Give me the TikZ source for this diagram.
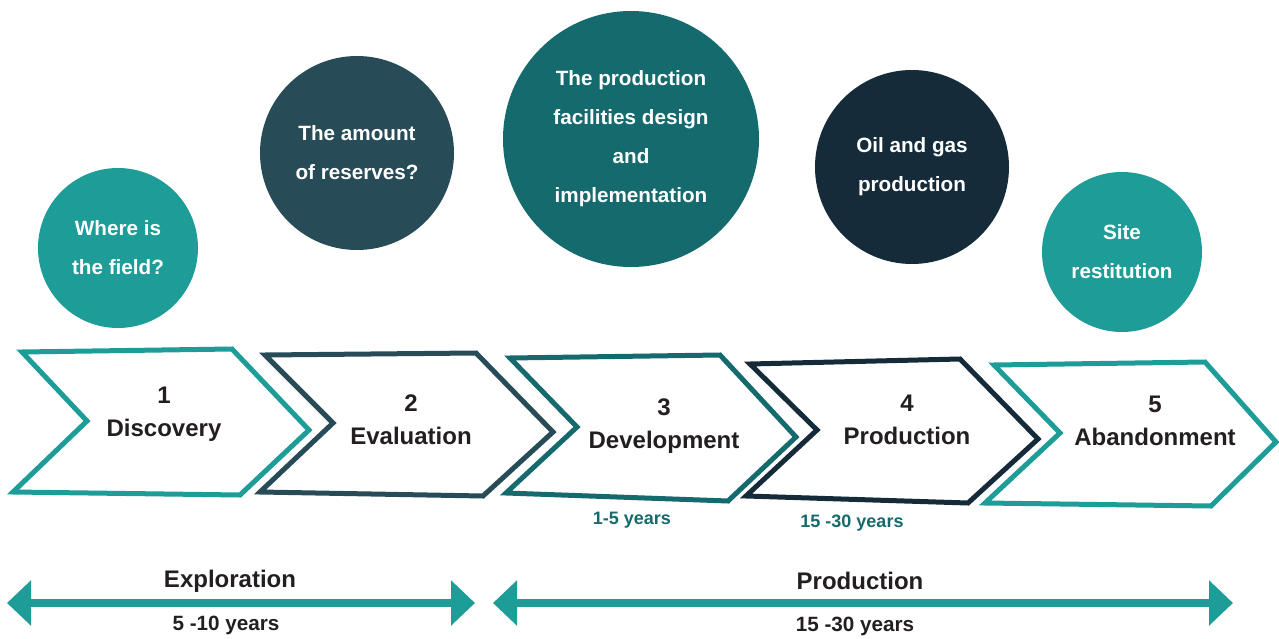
\documentclass[tikz,border=0pt]{standalone}
\usepackage{fontspec}
\setmainfont{Liberation Sans}
\usepackage{tikz}
\usetikzlibrary{arrows.meta,positioning,shapes}

\definecolor{tealA}{HTML}{1E9C98}
\definecolor{slateB}{HTML}{274B57}
\definecolor{tealC}{HTML}{156A6D}
\definecolor{navyD}{HTML}{152B3A}
\definecolor{inkT}{HTML}{231F20}

\begin{document}
\begin{tikzpicture}[x=0.75pt,y=-0.75pt,
            bubble/.style={circle,inner sep=0,align=center,text=white,font=\fontsize{15.5}{29.25}\selectfont\bfseries},
            chev/.style={line width=3.75pt,line join=miter,fill=white},
            stage/.style={align=center,text=inkT,font=\fontsize{18}{24.75}\selectfont\bfseries},
            dur/.style={text=tealC,font=\fontsize{13.5}{16}\selectfont\bfseries},
            phase/.style={text=inkT,font=\fontsize{18}{21}\selectfont\bfseries},
            span/.style={text=inkT,font=\fontsize{15.5}{18}\selectfont\bfseries},
            timeline/.style={draw=tealA,line width=6pt,{Triangle[length=18pt,width=33pt]}-{Triangle[length=18pt,width=33pt]}}
          ]
          \useasboundingbox (0,0) rectangle (1279,639);

          %questions
          \node[bubble,fill=tealA,minimum size=120pt] (q1) at (118,248) {Where is\\the field?};
          \node[bubble,fill=slateB,minimum size=145.5pt] (q2) at (357,153) {The amount\\of reserves?};
          \node[bubble,fill=tealC,minimum size=192pt] (q3) at (631,139) {The production\\facilities design\\and\\implementation};
          \node[bubble,fill=navyD,minimum size=145.5pt] (q4) at (912,167) {Oil and gas\\production};
          \node[bubble,fill=tealA,minimum size=120pt] (q5) at (1122,252) {Site\\restitution};

          %stages
          \draw[chev,draw=tealA] (22,352) -- (232,349) -- (309,430) -- (240,495) -- (13,492) -- (87,421) -- cycle;
          \draw[chev,draw=slateB] (265,355) -- (476,353) -- (553,432) -- (483,496) -- (260,492) -- (333,423) -- cycle;
          \draw[chev,draw=tealC] (510,358) -- (720,355) -- (796,437) -- (728,501) -- (506,493) -- (577,427) -- cycle;
          \draw[chev,draw=navyD] (750,364) -- (960,359) -- (1038,439) -- (968,503) -- (746,496) -- (817,430) -- cycle;
          \draw[chev,draw=tealA] (994,365) -- (1205,362) -- (1276,442) -- (1211,506) -- (985,503) -- (1060,433) -- cycle;

          \node[stage] (s1) at (164,414) {1\\Discovery};
          \node[stage] (s2) at (411,420) {2\\Evaluation};
          \node[stage] (s3) at (664,426) {3\\Development};
          \node[stage] (s4) at (907,420) {4\\Production};
          \node[stage] (s5) at (1155,421) {5\\Abandonment};

          \node[dur] (d3) at (632,520) {1-5 years};
          \node[dur] (d4) at (852,523) {15 -30 years};

          %phases
          \coordinate (e0) at (7,603);
          \coordinate (e1) at (475,603);
          \coordinate (p0) at (493,603);
          \coordinate (p1) at (1233,603);
          \draw[timeline] (e0) -- (e1);
          \draw[timeline] (p0) -- (p1);

          \node[phase] (expl) at (230,581) {Exploration};
          \node[span] (explt) at (226,625) {5 -10 years};
          \node[phase] (prod) at (860,581) {Production};
          \node[span] (prodt) at (855,626) {15 -30 years};

      \end{tikzpicture}
\end{document}
